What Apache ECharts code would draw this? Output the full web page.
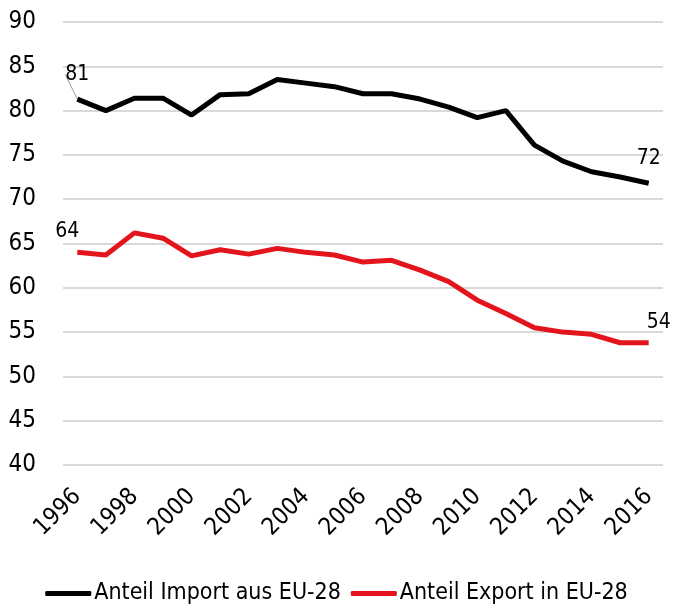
<!DOCTYPE html>
<html>
<head>
<meta charset="utf-8">
<script src="https://cdn.jsdelivr.net/npm/echarts@6/dist/echarts.min.js"></script>
<style>
  html, body { margin: 0; padding: 0; background: #fff; }
  #chart { width: 673px; height: 605px; }
</style>
</head>
<body>
<div id="chart"></div>
<script>
const years = ['1996', '1997', '1998', '1999', '2000', '2001', '2002', '2003', '2004', '2005', '2006',
  '2007', '2008', '2009', '2010', '2011', '2012', '2013', '2014', '2015', '2016']
const importShare = [81.3, 80.0, 81.4, 81.4, 79.5, 81.8, 81.9, 83.5, 83.1, 82.7, 81.9,
  81.9, 81.3, 80.4, 79.2, 80.0, 76.1, 74.3, 73.1, 72.5, 71.8]
const exportShare = [64.0, 63.7, 66.2, 65.6, 63.6, 64.3, 63.8, 64.45, 64.0, 63.7, 62.9,
  63.1, 62.0, 60.7, 58.6, 57.1, 55.5, 55.0, 54.75, 53.8, 53.8]
const importLabels = ['81', '72']
const exportLabels = ['64', '54']
const seriesNames = ['Anteil Import aus EU-28', 'Anteil Export in EU-28']

const font = '"DejaVu Sans Condensed", "Roboto", sans-serif'

// label only on first and last point
const withEndLabels = (values, labels, firstOffset, lastOffset, firstLine) => values.map((v, i) => {
  if (i === 0) {
    return {
      value: v,
      label: {show: true, formatter: labels[0], offset: firstOffset},
      labelLine: {show: !!firstLine, lineStyle: {color: '#9a9a9a', width: 1}}
    }
  }
  if (i === values.length - 1) {
    return {value: v, label: {show: true, formatter: labels[1], offset: lastOffset}}
  }
  return v
})

const chart = echarts.init(document.getElementById('chart'))
chart.setOption({
  animation: false,
  textStyle: {fontFamily: font},
  grid: {left: 63, right: 10, top: 22, bottom: 140, containLabel: false},
  legend: {
    top: 577,
    left: 'center',
    icon: 'roundRect',
    itemWidth: 46,
    itemHeight: 5,
    itemGap: 10,
    textStyle: {fontFamily: font, fontSize: 23, color: '#000', padding: [0, 0, 0, -2]},
    data: seriesNames
  },
  xAxis: {
    type: 'category',
    data: years,
    boundaryGap: true,
    axisLine: {show: false},
    axisTick: {show: false},
    axisLabel: {
      interval: 1,
      rotate: 45,
      margin: 28,
      fontSize: 24,
      color: '#000',
      fontFamily: font
    }
  },
  yAxis: {
    type: 'value',
    min: 40,
    max: 90,
    interval: 5,
    axisLine: {show: false},
    axisTick: {show: false},
    axisLabel: {margin: 27, fontSize: 24, color: '#000', fontFamily: font},
    splitLine: {lineStyle: {color: '#d9d9d9', width: 2}}
  },
  series: [
    {
      name: seriesNames[0],
      type: 'line',
      symbol: 'circle',
      symbolSize: 0,
      color: '#000',
      lineStyle: {color: '#000', width: 5},
      label: {position: 'top', distance: 14, fontSize: 21, color: '#000', fontFamily: font},
      labelLayout: {moveOverlap: false},
      data: withEndLabels(importShare, importLabels, [3, -6], [6, 0], true)
    },
    {
      name: seriesNames[1],
      type: 'line',
      symbol: 'circle',
      symbolSize: 0,
      color: '#e3141b',
      lineStyle: {color: '#e3141b', width: 5},
      label: {position: 'top', distance: 10, fontSize: 21, color: '#000', fontFamily: font},
      data: withEndLabels(exportShare, exportLabels, [-10, 0], [10, 0], false)
    }
  ]
})
</script>
</body>
</html>
